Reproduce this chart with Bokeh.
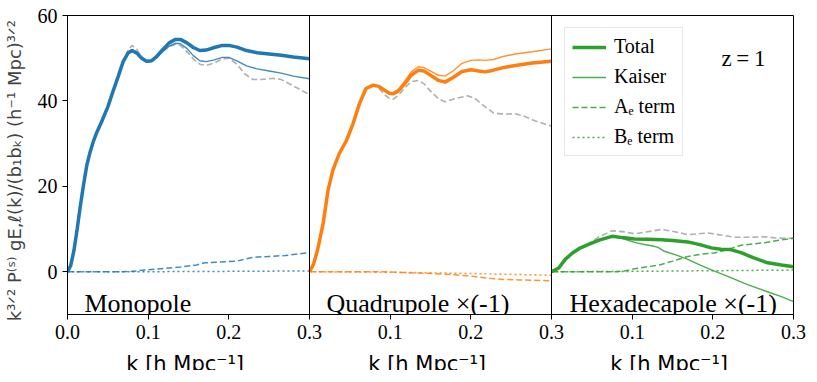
from bokeh.plotting import figure
from bokeh.layouts import column
from bokeh.models import (ColumnDataSource, Span, Label, Legend, LegendItem, AllLabels,
                          FixedTicker, Range1d)
from bokeh.transform import dodge
from bokeh.embed import file_html
from bokeh.resources import INLINE

# ---------------- data ----------------
# Monopole
k_mono = [0, 0.004, 0.008, 0.012, 0.016, 0.020, 0.024, 0.028, 0.032, 0.036, 0.042, 0.050,
          0.056, 0.063, 0.069, 0.075,
          0.080, 0.086, 0.092, 0.098, 0.104, 0.110, 0.118, 0.126, 0.134, 0.140, 0.148, 0.156,
          0.164, 0.172, 0.182, 0.192, 0.200, 0.210, 0.222, 0.235, 0.250, 0.265, 0.280, 0.300]
mono_total = [0, 1.5, 5.0, 10.0, 15.5, 20.5, 25.0, 28.0, 30.5, 32.5, 35.0, 38.6,
              42.0, 45.8, 49.2, 51.2,
              51.8, 51.2, 50.0, 49.3, 49.4, 50.3, 52.0, 53.6, 54.4, 54.4, 53.6, 52.5,
              51.8, 51.9, 52.5, 53.0, 53.0, 52.6, 51.8, 51.3, 51.0, 50.7, 50.3, 49.9]
mono_kaiser = [0, 1.5, 5.0, 10.0, 15.5, 20.5, 25.0, 28.0, 30.5, 32.5, 35.0, 38.6,
               42.0, 45.8, 49.2, 51.2,
               51.7, 51.0, 49.8, 49.1, 49.2, 50.0, 51.5, 52.8, 53.5, 53.4, 52.3, 50.6,
               49.4, 49.2, 49.6, 50.2, 50.2, 49.4, 48.2, 47.5, 47.0, 46.5, 45.8, 45.2]
k_mono_ref = [0, 0.004, 0.008, 0.012, 0.016, 0.020, 0.024, 0.028, 0.032, 0.036, 0.042, 0.050,
              0.056, 0.063, 0.069, 0.075,
              0.080, 0.086, 0.092, 0.098, 0.104, 0.110, 0.118, 0.126, 0.134, 0.140, 0.148, 0.156,
              0.164, 0.172, 0.182, 0.192, 0.200, 0.210, 0.220, 0.230, 0.240, 0.255, 0.265, 0.280, 0.300]
mono_ref = [0, 1.5, 5.0, 10.0, 15.5, 20.5, 25.0, 28.0, 30.5, 32.5, 35.0, 38.6,
            42.0, 45.8, 49.4, 51.8,
            53.0, 52.0, 50.3, 49.3, 49.3, 50.2, 51.6, 52.8, 53.3, 53.0, 51.6, 49.8,
            48.6, 48.3, 48.9, 49.8, 50.0, 48.6, 46.3, 45.0, 45.0, 45.3, 45.0, 43.5, 41.5]
k_mono_ae = [0, 0.06, 0.08, 0.10, 0.12, 0.14, 0.16, 0.17, 0.19, 0.21, 0.23, 0.25, 0.27, 0.30]
mono_ae = [0, 0, 0.1, 0.5, 0.8, 1.1, 1.6, 2.1, 2.3, 2.5, 3.4, 3.6, 3.8, 4.5]
k_mono_be = [0, 0.1, 0.2, 0.3]
mono_be = [0, 0.02, 0.1, 0.2]

# Quadrupole x(-1)
k_quad = [0, 0.005, 0.010, 0.017, 0.023, 0.029, 0.037, 0.046, 0.054, 0.062, 0.070, 0.079,
          0.086, 0.093, 0.099, 0.104, 0.110, 0.118, 0.126, 0.135, 0.142, 0.150, 0.160, 0.168,
          0.178, 0.189, 0.200, 0.210, 0.218, 0.228, 0.240, 0.255, 0.276, 0.300]
quad_total = [0, 1.8, 5.1, 11.4, 19.1, 23.8, 27.7, 30.8, 34.7, 39.4, 42.9, 43.7,
              43.4, 42.5, 41.8, 41.7, 42.3, 44.0, 46.0, 47.2, 47.0, 46.0, 44.8, 44.4,
              45.5, 46.9, 47.3, 47.0, 46.8, 47.2, 47.8, 48.3, 48.9, 49.3]
quad_kaiser = [0, 1.8, 5.1, 11.4, 19.1, 23.8, 27.7, 30.8, 34.7, 39.4, 42.9, 43.7,
               43.4, 42.5, 41.9, 41.9, 42.7, 44.6, 46.8, 48.0, 47.8, 47.0, 46.0, 45.8,
               47.0, 48.8, 49.5, 49.6, 49.5, 49.7, 50.4, 51.0, 51.5, 52.2]
k_quad_ref = [0, 0.005, 0.010, 0.017, 0.023, 0.029, 0.037, 0.046, 0.054, 0.062, 0.070, 0.079,
              0.086, 0.093, 0.099, 0.104, 0.110, 0.118, 0.126, 0.135, 0.142, 0.150, 0.160, 0.168,
              0.180, 0.196, 0.205, 0.215, 0.228, 0.240, 0.255, 0.265, 0.280, 0.300]
quad_ref = [0, 1.8, 5.1, 11.4, 19.1, 23.8, 27.7, 30.8, 34.7, 39.4, 42.9, 43.6,
            43.0, 41.5, 40.6, 40.4, 41.3, 43.0, 44.5, 44.8, 44.0, 42.3, 40.5, 39.8,
            40.5, 41.2, 40.6, 39.0, 37.2, 36.9, 37.0, 36.5, 35.3, 34.1]
k_quad_ae = [0, 0.09, 0.12, 0.15, 0.18, 0.20, 0.22, 0.24, 0.26, 0.30]
quad_ae = [0, 0, -0.2, -0.4, -0.7, -1.0, -1.5, -1.8, -1.9, -2.1]
k_quad_be = [0, 0.1, 0.2, 0.3]
quad_be = [0, -0.1, -0.4, -0.8]

# Hexadecapole x(-1)
k_hexa = [0, 0.009, 0.017, 0.026, 0.034, 0.046, 0.059, 0.075,
          0.088, 0.103, 0.120, 0.136, 0.150, 0.169, 0.185, 0.198, 0.210, 0.222,
          0.235, 0.250, 0.268, 0.285, 0.300]
hexa_total = [0, 0.9, 2.9, 4.4, 5.4, 6.4, 7.4, 8.3,
              8.0, 7.7, 7.6, 7.5, 7.3, 7.0, 6.3, 5.6, 5.3, 5.2,
              4.5, 3.3, 2.1, 1.6, 1.2]
k_hexa_kaiser = [0, 0.009, 0.017, 0.026, 0.034, 0.046, 0.059, 0.075,
                 0.088, 0.103, 0.115, 0.124, 0.132, 0.140, 0.155, 0.169, 0.185, 0.202,
                 0.220, 0.243, 0.265, 0.285, 0.300]
hexa_kaiser = [0, 0.9, 2.9, 4.4, 5.4, 6.4, 7.4, 8.3,
               7.8, 6.9, 6.4, 6.1, 5.7, 4.8, 3.9, 2.9, 1.5, 0.15,
               -1.2, -3.0, -4.5, -5.8, -7.0]
k_hexa_ref = [0, 0.009, 0.017, 0.026, 0.034, 0.046, 0.059, 0.075, 0.088, 0.103, 0.120,
              0.136, 0.150, 0.169, 0.182, 0.194, 0.210, 0.227, 0.245, 0.264, 0.280, 0.300]
hexa_ref = [0, 0.9, 2.9, 4.4, 5.4, 6.6, 8.2, 9.6, 9.4, 8.9, 9.4,
            9.9, 9.5, 8.7, 8.9, 9.1, 8.6, 8.1, 8.1, 8.2, 7.9, 7.8]
k_hexa_ae = [0, 0.08, 0.09, 0.103, 0.12, 0.136, 0.15, 0.169, 0.185, 0.202, 0.22, 0.235,
             0.25, 0.264, 0.28, 0.30]
hexa_ae = [0, 0, 0.2, 0.7, 1.2, 1.7, 2.5, 3.6, 4.1, 4.4, 5.3, 6.2, 6.5, 6.8, 7.3, 7.9]
k_hexa_be = [0, 0.1, 0.2, 0.3]
hexa_be = [0, 0.1, 0.25, 0.4]

panel_names = ["Monopole", "Quadrupole \u00d7(-1)", "Hexadecapole \u00d7(-1)"]
legend_labels = ["Total", "Kaiser", "A\u2091 term", "B\u2091 term"]
x_ticks = [0, 1, 2, 3, 4, 5, 6, 7, 8, 9]          # tenths of the joined k axis
x_tick_labels = ["0.0", "0.1", "0.2", "0.3", "0.1", "0.2", "0.3", "0.1", "0.2", "0.3"]
y_ticks = [0, 20, 40, 60]
k_max = 0.3
x_title = "k  [h Mpc\u207b\u00b9]"

# ---------------- figure ----------------
SERIF = "Liberation Serif"
SANS = "DejaVu Sans"

p = figure(frame_width=726, frame_height=299, output_backend="svg", toolbar_location=None,
           x_range=Range1d(0, 9), y_range=Range1d(-10, 60),
           min_border_left=61, min_border_right=14, min_border_top=15, min_border_bottom=30)
p.grid.visible = False
p.outline_line_color = "black"
p.outline_line_width = 1
p.background_fill_color = "white"
p.border_fill_color = "white"

p.xaxis.ticker = FixedTicker(ticks=x_ticks)
p.xaxis.major_label_overrides = {t: lab for t, lab in zip(x_ticks, x_tick_labels)}
p.yaxis.ticker = FixedTicker(ticks=y_ticks)
for ax in (p.xaxis[0], p.yaxis[0]):
    ax.major_label_policy = AllLabels()
    ax.major_label_text_font = SERIF
    ax.major_label_text_font_size = "20px"
    ax.major_label_text_color = "black"
    ax.axis_line_color = "black"
    ax.major_tick_line_color = "black"
    ax.major_tick_out = 5
    ax.major_tick_in = 0
    ax.minor_tick_line_color = None
    ax.major_label_standoff = 5
p.yaxis.axis_label = "k\u00b3\u141f\u00b2 P\u207d\u02e2\u207e gE,\u2113(k)/(b\u2081b\u2096)   (h\u207b\u00b9 Mpc)\u00b3\u141f\u00b2"
p.yaxis.axis_label_text_font = SANS
p.yaxis.axis_label_text_font_style = "normal"
p.yaxis.axis_label_text_font_size = "18px"
p.yaxis.axis_label_standoff = 10

colors = ["#1f77b4", "#ff7f0e", "#2ca02c"]
panels = [
    (k_mono, mono_total, k_mono, mono_kaiser, k_mono_ref, mono_ref, k_mono_ae, mono_ae, k_mono_be, mono_be),
    (k_quad, quad_total, k_quad, quad_kaiser, k_quad_ref, quad_ref, k_quad_ae, quad_ae, k_quad_be, quad_be),
    (k_hexa, hexa_total, k_hexa_kaiser, hexa_kaiser, k_hexa_ref, hexa_ref, k_hexa_ae, hexa_ae, k_hexa_be, hexa_be),
]
# each panel spans 0..k_max in k, mapped to 3 tenth-units of the joined axis
scale = 3 / k_max


def add_line(k, v, panel, **kw):
    src = ColumnDataSource(dict(k=[kk * scale for kk in k], v=v))
    return p.line(x=dodge("k", 3 * panel), y="v", source=src, **kw)


legend_renderers = None
for i, (kt, vt, kk, vk, kr, vr, ka, va, kb, vb) in enumerate(panels):
    c = colors[i]
    add_line(kr, vr, i, line_color="#b0b0b0", line_width=1.6, line_dash="6 3")
    r_be = add_line(kb, vb, i, line_color=c, line_width=1.5, line_alpha=0.85, line_dash="2 3")
    r_ae = add_line(ka, va, i, line_color=c, line_width=1.5, line_alpha=0.85, line_dash="6 3")
    r_k = add_line(kk, vk, i, line_color=c, line_width=1.4, line_alpha=0.85)
    r_t = add_line(kt, vt, i, line_color=c, line_width=3.5)
    if i == 2:
        legend_renderers = [r_t, r_k, r_ae, r_be]

# panel separators
for i in (1, 2):
    p.add_layout(Span(location=3 * i, dimension="height", line_color="black", line_width=1))

# panel names
name_x = [17, 259, 502]
for nm, xs in zip(panel_names, name_x):
    p.add_layout(Label(x=xs, y=11, x_units="screen", y_units="screen", text=nm,
                       text_font=SERIF, text_font_size="26px", text_color="black",
                       text_baseline="alphabetic"))

# redshift
p.add_layout(Label(x=654, y=256, x_units="screen", y_units="screen", text="z\u2009=\u20091",
                   text_font=SERIF, text_font_size="23px", text_color="black",
                   text_baseline="alphabetic"))

legend = Legend(items=[LegendItem(label=lab, renderers=[r]) for lab, r in zip(legend_labels, legend_renderers)],
                location=(497, 158))
legend.label_text_font = SERIF
legend.label_text_font_size = "20px"
legend.label_text_color = "black"
legend.glyph_width = 34
legend.glyph_height = 20
legend.label_height = 23
legend.spacing = 7
legend.padding = 7
legend.margin = 0
legend.label_standoff = 8
legend.border_line_color = "#d0d0d0"
legend.border_line_width = 1
legend.background_fill_color = "white"
legend.background_fill_alpha = 0.85
p.add_layout(legend)

# strip below the panels holding the three x-axis titles
q = figure(frame_width=726, frame_height=26, output_backend="svg", toolbar_location=None,
           x_range=p.x_range, y_range=Range1d(0, 1), x_axis_type=None, y_axis_type=None,
           min_border_left=61, min_border_right=14, min_border_top=0, min_border_bottom=0)
q.grid.visible = False
q.outline_line_color = None
q.background_fill_color = "white"
q.border_fill_color = "white"
for j in range(3):
    q.add_layout(Label(x=121 + 242 * j, y=7, x_units="screen", y_units="screen",
                       text=x_title, text_font=SANS, text_font_size="21px",
                       text_color="black", text_align="center", text_baseline="alphabetic"))

layout = column(p, q, spacing=0)
open("out.html", "w").write(file_html(layout, INLINE))
